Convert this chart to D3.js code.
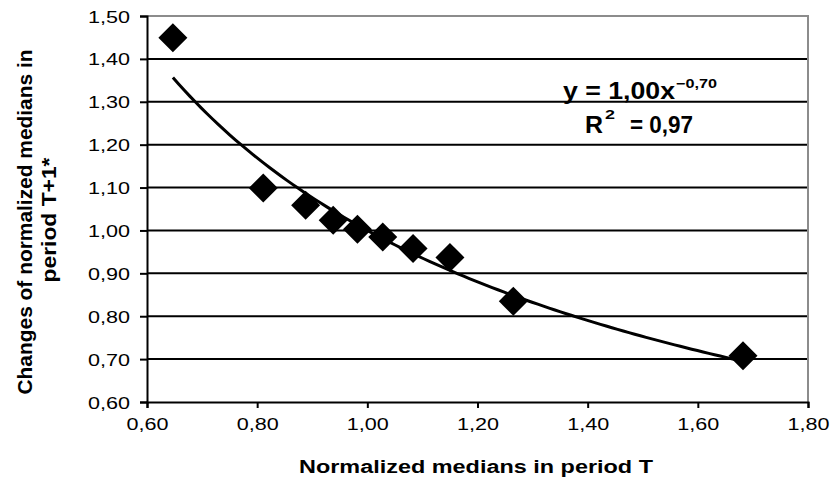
<!DOCTYPE html>
<html>
<head>
<meta charset="utf-8">
<script src="https://cdn.jsdelivr.net/npm/d3@7"></script>
<style>
  html, body { margin: 0; padding: 0; background: #fff; }
  svg { display: block; font-family: "Liberation Sans", Arial, sans-serif; }
</style>
</head>
<body>
<div id="svgContainer"></div>
<script>
// Values
const xVals = [0.647, 0.811, 0.888, 0.938, 0.982, 1.028, 1.083, 1.150, 1.265, 1.682];
const yVals = [1.449, 1.099, 1.059, 1.024, 1.003, 0.985, 0.958, 0.937, 0.835, 0.708];
const xTicks = [0.6, 0.8, 1.0, 1.2, 1.4, 1.6, 1.8];
const yTicks = [0.6, 0.7, 0.8, 0.9, 1.0, 1.1, 1.2, 1.3, 1.4, 1.5];
// power trend y = a * x^b, as printed on the chart
const trendA = 1.00;
const trendB = -0.70;
const trendR2 = 0.97;

const width = 831;
const height = 480;
const plotLeft = 147, plotRight = 808, plotTop = 16, plotBottom = 402;

const svg = d3.select("#svgContainer").append("svg")
  .attr("width", width)
  .attr("height", height);

const x = d3.scaleLinear().domain([0.6, 1.8]).range([plotLeft, plotRight]);
const y = d3.scaleLinear().domain([0.6, 1.5]).range([plotBottom, plotTop]);

// comma decimals
const fmt = v => d3.format(".2f")(v).replace(".", ",");

// Gridlines (black), top one is the gray plot border
svg.append("g")
  .selectAll("line")
  .data(yTicks.filter(d => d > 0.6))
  .join("line")
  .attr("x1", plotLeft)
  .attr("x2", plotRight)
  .attr("y1", d => y(d))
  .attr("y2", d => y(d))
  .attr("stroke", d => d === 1.5 ? "#8c8c8c" : "#000")
  .attr("stroke-width", 2);

// right border
svg.append("line")
  .attr("x1", plotRight).attr("x2", plotRight)
  .attr("y1", plotTop - 1).attr("y2", plotBottom)
  .attr("stroke", "#8c8c8c")
  .attr("stroke-width", 2);

// Y axis
const yAxis = svg.append("g")
  .attr("transform", `translate(${plotLeft},0)`)
  .call(d3.axisLeft(y).tickValues(yTicks).tickSize(7).tickPadding(0).tickFormat(fmt));
yAxis.select(".domain").attr("stroke", "#000").attr("stroke-width", 2);
yAxis.selectAll(".tick line").attr("stroke", "#000").attr("stroke-width", 2);
yAxis.selectAll(".tick text")
  .attr("x", -17)
  .attr("dy", null)
  .attr("y", 6)
  .attr("font-size", 16)
  .attr("fill", "#000")
  .attr("textLength", 42)
  .attr("lengthAdjust", "spacingAndGlyphs");

// X axis
const xAxis = svg.append("g")
  .attr("transform", `translate(0,${plotBottom})`)
  .call(d3.axisBottom(x).tickValues(xTicks).tickSize(6).tickPadding(0).tickFormat(fmt));
xAxis.select(".domain").attr("stroke", "#000").attr("stroke-width", 2);
xAxis.selectAll(".tick line").attr("stroke", "#000").attr("stroke-width", 2);
xAxis.selectAll(".tick text")
  .attr("y", 28)
  .attr("dy", null)
  .attr("font-size", 16)
  .attr("fill", "#000")
  .attr("textLength", 42)
  .attr("lengthAdjust", "spacingAndGlyphs");

// Trendline from the printed equation
const x0 = d3.min(xVals), x1 = d3.max(xVals);
const trendPts = d3.range(0, 101).map(i => {
  const xv = x0 + (x1 - x0) * i / 100;
  return [xv, trendA * Math.pow(xv, trendB)];
});
svg.append("path")
  .datum(trendPts)
  .attr("fill", "none")
  .attr("stroke", "#000")
  .attr("stroke-width", 3)
  .attr("d", d3.line().x(d => x(d[0])).y(d => y(d[1])));

// Diamond markers
const h = 14.5;
svg.append("g")
  .selectAll("path")
  .data(xVals.map((v, i) => [v, yVals[i]]))
  .join("path")
  .attr("transform", d => `translate(${x(d[0])},${y(d[1])})`)
  .attr("d", `M0,${-h}L${h},0L0,${h}L${-h},0Z`)
  .attr("fill", "#000");

// Equation label
const eq = svg.append("g").attr("font-weight", "bold").attr("fill", "#000");
function txt(s, tx, ty, size, len) {
  eq.append("text")
    .attr("x", tx).attr("y", ty)
    .attr("font-size", size)
    .attr("textLength", len)
    .attr("lengthAdjust", "spacingAndGlyphs")
    .text(s);
}
txt("y = " + fmt(trendA) + "x", 563, 99, 23, 112);
txt(fmt(trendB), 676, 88, 13, 41);
txt("R", 585, 133, 23, 18);
txt("2", 605, 119, 13, 10);
txt("= " + fmt(trendR2), 630, 133, 23, 63);

// Axis titles
svg.append("text")
  .attr("x", 476)
  .attr("y", 473)
  .attr("text-anchor", "middle")
  .attr("font-weight", "bold")
  .attr("font-size", 18)
  .attr("textLength", 354)
  .attr("lengthAdjust", "spacingAndGlyphs")
  .text("Normalized medians in period T");

const yTitle = svg.append("g")
  .attr("font-weight", "bold")
  .attr("text-anchor", "middle");
yTitle.append("text")
  .attr("transform", "translate(32,222) rotate(-90)")
  .attr("font-size", 21)
  .attr("textLength", 345)
  .attr("lengthAdjust", "spacingAndGlyphs")
  .text("Changes of normalized medians in");
yTitle.append("text")
  .attr("transform", "translate(56,220) rotate(-90)")
  .attr("font-size", 21)
  .attr("textLength", 125)
  .attr("lengthAdjust", "spacingAndGlyphs")
  .text("period T+1*");
</script>
</body>
</html>
